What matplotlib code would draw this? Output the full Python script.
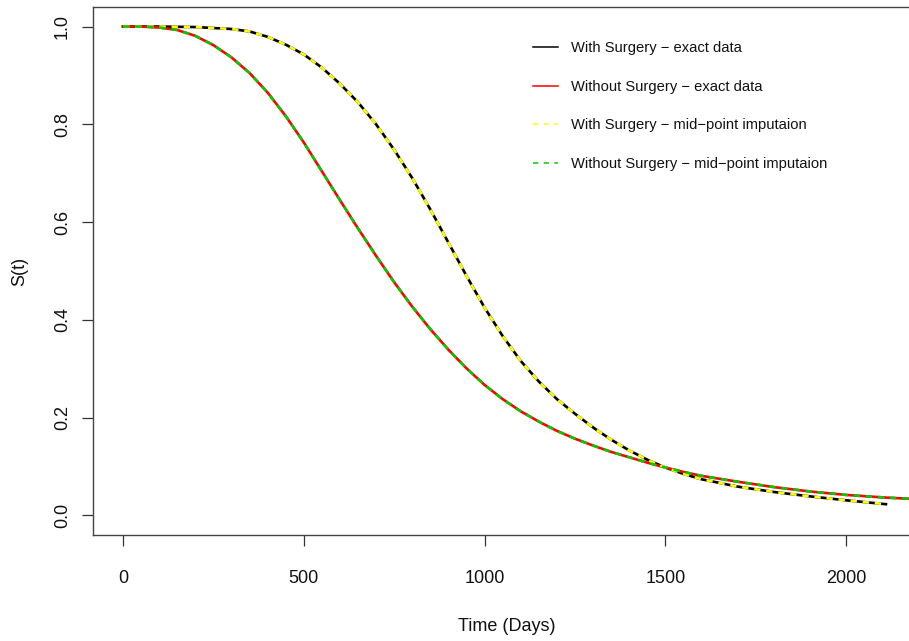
import matplotlib
matplotlib.use("Agg")
import matplotlib.pyplot as plt
from matplotlib.lines import Line2D

plt.rcParams['font.family'] = ['Liberation Sans', 'DejaVu Sans']

# survival curves S(t), time in days
t_surg = [0, 100, 200, 250, 300, 350, 400, 450, 500, 550, 600, 650, 700, 750,
          800, 850, 900, 950, 1000, 1050, 1100, 1150, 1200, 1250, 1300, 1350,
          1400, 1450, 1500, 1550, 1600, 1700, 1800, 1900, 2000, 2110]
s_surg = [1.0, 1.0, 0.999, 0.997, 0.995, 0.99, 0.979, 0.963, 0.943, 0.916,
          0.883, 0.845, 0.80, 0.748, 0.69, 0.626, 0.558, 0.49, 0.425, 0.367,
          0.316, 0.274, 0.238, 0.208, 0.180, 0.155, 0.133, 0.114, 0.098, 0.085,
          0.074, 0.059, 0.048, 0.039, 0.031, 0.023]

t_nosurg = [0, 50, 100, 150, 200, 250, 300, 350, 400, 450, 500, 550, 600, 650,
            700, 750, 800, 850, 900, 950, 1000, 1050, 1100, 1150, 1200, 1250,
            1300, 1350, 1400, 1450, 1500, 1550, 1600, 1700, 1800, 1900, 2000,
            2100, 2200]
s_nosurg = [1.0, 1.0, 0.998, 0.993, 0.981, 0.962, 0.937, 0.905, 0.865, 0.817,
            0.763, 0.704, 0.645, 0.587, 0.531, 0.477, 0.427, 0.381, 0.339, 0.301,
            0.267, 0.238, 0.213, 0.192, 0.173, 0.157, 0.143, 0.130, 0.119, 0.108,
            0.098, 0.089, 0.081, 0.069, 0.058, 0.049, 0.042, 0.037, 0.033]

labels = ["With Surgery \u2212 exact data",
          "Without Surgery \u2212 exact data",
          "With Surgery \u2212 mid\u2212point imputaion",
          "Without Surgery \u2212 mid\u2212point imputaion"]
green = '#00cc00'

fig = plt.figure(figsize=(9.09, 6.41), dpi=100)
W, H = 909, 641
# plot region runs a little past the right edge of the canvas
ax = fig.add_axes([93 / W, (H - 535) / H, 828 / W, 528 / H])

lw = 1.9
ax.plot(t_surg, s_surg, color='black', lw=lw)
ax.plot(t_nosurg, s_nosurg, color='red', lw=lw)
ax.plot(t_surg, s_surg, color='yellow', lw=lw, dashes=(2.4, 2.2))
ax.plot(t_nosurg, s_nosurg, color=green, lw=lw, dashes=(2.4, 2.2))

ax.set_xlim(-83, 2207)
ax.set_ylim(-0.04, 1.04)
ax.set_xticks([0, 500, 1000, 1500, 2000])
ax.set_yticks([0.0, 0.2, 0.4, 0.6, 0.8, 1.0])
ax.set_yticklabels(["0.0", "0.2", "0.4", "0.6", "0.8", "1.0"], rotation=90, va='center')
ax.tick_params(direction='out', length=8, width=0.9, color='#333333',
               labelsize=13, labelcolor='#111111')
ax.tick_params(axis='x', pad=17)
ax.tick_params(axis='y', pad=8)
for sp in ax.spines.values():
    sp.set_color('#444444')
    sp.set_linewidth(1.0)

ax.set_xlabel("Time (Days)", fontsize=13, color='#111111')
ax.set_ylabel("S(t)", fontsize=13, color='#111111')
ax.xaxis.set_label_coords(0.5, (535 - 618) / 528)
ax.xaxis.label.set_va('top')
ax.yaxis.set_label_coords((20 - 93) / 828, 0.5)
ax.yaxis.label.set_va('center')

handles = [Line2D([], [], color='black', lw=1.1),
           Line2D([], [], color='red', lw=1.1),
           Line2D([], [], color='yellow', lw=1.1, dashes=(3.5, 3.5)),
           Line2D([], [], color=green, lw=1.1, dashes=(3.5, 3.5))]
fig.legend(handles, labels, loc='upper left', frameon=False,
           bbox_to_anchor=(533 / W, 1 - 41 / H), bbox_transform=fig.transFigure,
           fontsize=10.6, borderpad=0, borderaxespad=0, handlelength=1.7,
           handletextpad=0.9, labelspacing=1.68, labelcolor='#111111')

fig.savefig("out.png", dpi=100)
